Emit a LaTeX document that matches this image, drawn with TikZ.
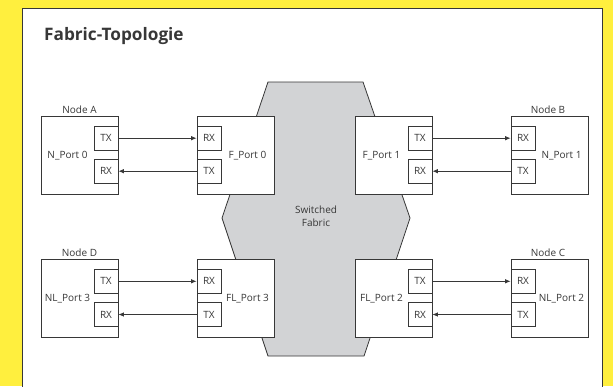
\documentclass[tikz,border=0pt]{standalone}
\usepackage{fontspec}
\setmainfont{Open Sans}
\usetikzlibrary{arrows.meta}
\definecolor{bgyellow}{RGB}{255,239,62}
\definecolor{edge}{RGB}{55,55,55}
\definecolor{fabricgray}{RGB}{210,211,213}
\begin{document}
\begin{tikzpicture}[x=1pt,y=-1pt,
  box/.style={draw=edge, line width=0.8pt, fill=white, minimum width=77pt, minimum height=77.6pt, inner sep=0pt},
  port/.style={draw=edge, line width=0.8pt, fill=white, minimum width=24pt, minimum height=24pt, inner sep=0pt, font=\fontsize{10}{12}\selectfont, text=edge},
  lbl/.style={inner sep=0pt, font=\fontsize{10}{12}\selectfont, text=edge},
  arr/.style={draw=edge, line width=0.8pt, -{Latex[length=5.5pt,width=4.5pt]}}
]
\useasboundingbox (0,0) rectangle (613,386);
\fill[bgyellow] (0,0) rectangle (613,386);
\begin{scope}
\clip (0,0) rectangle (613,386);
\draw[edge, fill=white, line width=1.3pt] (22.7,8.3) rectangle (602.7,400);
\end{scope}
\node[anchor=base west, inner sep=0pt, text=edge, font=\bfseries\fontsize{17.2}{20}\selectfont] (title) at (44,40.5) {Fabric-Topologie};
% switched fabric
\draw[edge, fill=fabricgray, line width=0.8pt] (268,82) -- (363,82) -- (410,218) -- (364,356) -- (268,356) -- (222,218) -- cycle;
\node[lbl, align=center, font=\fontsize{10}{13}\selectfont] (sf) at (316,216.5) {Switched\\Fabric};
% top row
\node[box] (A) at (79.5,155.5) {};
\node[box] (F0) at (235.5,155.5) {};
\node[box] (F1) at (393.5,155.5) {};
\node[box] (B) at (549.5,155.5) {};
\node[port] (A-tx) at (106,138.2) {TX};
\node[port] (A-rx) at (106,171.2) {RX};
\node[port] (F0-rx) at (209,138.2) {RX};
\node[port] (F0-tx) at (209,171.2) {TX};
\node[port] (F1-tx) at (420,138.2) {TX};
\node[port] (F1-rx) at (420,171.2) {RX};
\node[port] (B-rx) at (523,138.2) {RX};
\node[port] (B-tx) at (523,171.2) {TX};
\node[lbl] (A-l) at (67.5,155.5) {N\_Port 0};
\node[lbl] (F0-l) at (247.5,155.5) {F\_Port 0};
\node[lbl] (F1-l) at (381.5,155.5) {F\_Port 1};
\node[lbl] (B-l) at (561.5,155.5) {N\_Port 1};
\node[lbl] (A-n) at (79.5,109.5) {Node A};
\node[lbl] (B-n) at (548,109.5) {Node B};
\draw[arr] (A-tx) -- (F0-rx);
\draw[arr] (F0-tx) -- (A-rx);
\draw[arr] (F1-tx) -- (B-rx);
\draw[arr] (B-tx) -- (F1-rx);
% bottom row
\node[box] (D) at (79.5,298.3) {};
\node[box] (F3) at (235.5,298.3) {};
\node[box] (F2) at (393.5,298.3) {};
\node[box] (C) at (549.5,298.3) {};
\node[port] (D-tx) at (106,281.3) {TX};
\node[port] (D-rx) at (106,314.5) {RX};
\node[port] (F3-rx) at (209,281.3) {RX};
\node[port] (F3-tx) at (209,314.5) {TX};
\node[port] (F2-tx) at (420,281.3) {TX};
\node[port] (F2-rx) at (420,314.5) {RX};
\node[port] (C-rx) at (523,281.3) {RX};
\node[port] (C-tx) at (523,314.5) {TX};
\node[lbl] (D-l) at (67.5,298.3) {NL\_Port 3};
\node[lbl] (F3-l) at (247.5,298.3) {FL\_Port 3};
\node[lbl] (F2-l) at (381.5,298.3) {FL\_Port 2};
\node[lbl] (C-l) at (561.5,298.3) {NL\_Port 2};
\node[lbl] (D-n) at (79.5,252.3) {Node D};
\node[lbl] (C-n) at (548,252.3) {Node C};
\draw[arr] (D-tx) -- (F3-rx);
\draw[arr] (F3-tx) -- (D-rx);
\draw[arr] (F2-tx) -- (C-rx);
\draw[arr] (C-tx) -- (F2-rx);
\end{tikzpicture}
\end{document}
